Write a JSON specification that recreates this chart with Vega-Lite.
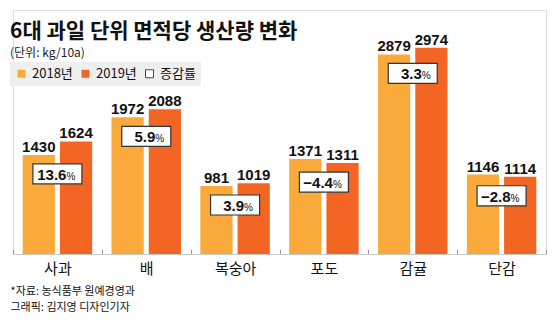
{
  "$schema": "https://vega.github.io/schema/vega-lite/v6.json",
  "width": 533,
  "height": 244,
  "autosize": {"type": "none"},
  "padding": {"left": 13, "top": 10, "right": 14, "bottom": 70},
  "background": "white",
  "title": {
    "text": "6대 과일 단위 면적당 생산량 변화",
    "subtitle": "(단위: kg/10a)",
    "anchor": "start",
    "frame": "group",
    "orient": "top",
    "offset": -49,
    "dx": -3,
    "font": "Noto Sans CJK KR",
    "fontSize": 21,
    "fontWeight": "bold",
    "color": "#111111",
    "subtitleFont": "Noto Sans CJK KR",
    "subtitleFontSize": 12,
    "subtitleColor": "#222222",
    "subtitlePadding": 6
  },
  "datasets": {
    "prod": [
      {"fruit": "사과", "year": "2018년", "value": 1430},
      {"fruit": "사과", "year": "2019년", "value": 1624},
      {"fruit": "배", "year": "2018년", "value": 1972},
      {"fruit": "배", "year": "2019년", "value": 2088},
      {"fruit": "복숭아", "year": "2018년", "value": 981},
      {"fruit": "복숭아", "year": "2019년", "value": 1019},
      {"fruit": "포도", "year": "2018년", "value": 1371},
      {"fruit": "포도", "year": "2019년", "value": 1311},
      {"fruit": "감귤", "year": "2018년", "value": 2879},
      {"fruit": "감귤", "year": "2019년", "value": 2974},
      {"fruit": "단감", "year": "2018년", "value": 1146},
      {"fruit": "단감", "year": "2019년", "value": 1114}
    ],
    "rates": [
      {"fruit": "사과", "rate": 13.6},
      {"fruit": "배", "rate": 5.9},
      {"fruit": "복숭아", "rate": 3.9},
      {"fruit": "포도", "rate": -4.4},
      {"fruit": "감귤", "rate": 3.3},
      {"fruit": "단감", "rate": -2.8}
    ]
  },
  "encoding": {
    "x": {
      "field": "fruit",
      "type": "nominal",
      "sort": ["사과", "배", "복숭아", "포도", "감귤", "단감"],
      "scale": {"paddingInner": 0, "paddingOuter": 0},
      "axis": {
        "labelAngle": 0,
        "labelFont": "Noto Sans CJK KR",
        "labelFontSize": 15,
        "labelColor": "#111111",
        "labelBaseline": "top",
        "labelPadding": 12,
        "domainColor": "#c8c8c8",
        "tickColor": "#999999",
        "tickSize": -5,
        "tickBand": "extent",
        "title": ["*자료: 농식품부 원예경영과", "그래픽: 김지영 디자인기자"],
        "titleFont": "Noto Sans CJK KR",
        "titleFontSize": 11,
        "titleFontWeight": "normal",
        "titleColor": "#111111",
        "titleAnchor": "start",
        "titleAlign": "left",
        "titleBaseline": "top",
        "titleX": -3,
        "titleY": 31,
        "titleLineHeight": 16
      }
    }
  },
  "layer": [
    {
      "data": {"name": "prod"},
      "mark": {"type": "bar"},
      "encoding": {
        "xOffset": {"field": "year", "scale": {"paddingInner": 0.135, "paddingOuter": 0.26}},
        "y": {"field": "value", "type": "quantitative", "scale": {"domain": [0, 3520], "nice": false, "zero": true}, "axis": null},
        "color": {
          "field": "year",
          "type": "nominal",
          "scale": {"domain": ["2018년", "2019년", "증감률"], "range": ["#f9aa3a", "#f26522", "#ffffff"]},
          "legend": {
            "title": null,
            "orient": "none",
            "legendX": -3,
            "legendY": 52,
            "direction": "horizontal",
            "fillColor": "#efefef",
            "padding": 5,
            "symbolType": "square",
            "symbolSize": 64,
            "labelFont": "Noto Sans CJK KR",
            "labelFontSize": 13,
            "labelColor": "#111111",
            "labelOffset": 4,
            "columnPadding": 6,
            "encode": {
              "symbols": {
                "update": {
                  "stroke": {"signal": "datum.value === '증감률' ? '#444444' : 'transparent'"},
                  "strokeWidth": {"value": 1}
                }
              }
            }
          }
        }
      }
    },
    {
      "data": {"name": "prod"},
      "mark": {"type": "text", "font": "Liberation Sans", "fontWeight": "bold", "fontSize": 15, "baseline": "alphabetic", "dy": -3, "color": "#111111"},
      "encoding": {
        "xOffset": {"field": "year"},
        "y": {"field": "value", "type": "quantitative"},
        "text": {"field": "value", "type": "quantitative", "format": "d"}
      }
    },
    {
      "data": {"name": "prod"},
      "transform": [
        {"aggregate": [{"op": "min", "field": "value", "as": "low"}], "groupby": ["fruit"]},
        {"lookup": "fruit", "from": {"data": {"name": "rates"}, "key": "fruit", "fields": ["rate"]}}
      ],
      "layer": [
        {
          "mark": {"type": "point", "shape": "M-1,0.367L1,0.367L1,1.184L-1,1.184Z", "size": 2401, "filled": true, "fill": "#ffffff", "stroke": "#333333", "strokeWidth": 1.2, "opacity": 1},
          "encoding": {"y": {"field": "low", "type": "quantitative"}}
        },
        {
          "mark": {"type": "text", "font": "Liberation Sans", "fontWeight": "bold", "fontSize": 15, "baseline": "alphabetic", "align": "right", "dx": 9, "dy": 25, "color": "#111111"},
          "encoding": {
            "y": {"field": "low", "type": "quantitative"},
            "text": {"field": "rate", "type": "quantitative", "format": ".1f"}
          }
        },
        {
          "mark": {"type": "text", "font": "Liberation Sans", "fontSize": 10, "baseline": "alphabetic", "align": "left", "dx": 9, "dy": 25, "color": "#111111", "text": "%"},
          "encoding": {
            "y": {"field": "low", "type": "quantitative"}
          }
        }
      ]
    }
  ]
}
